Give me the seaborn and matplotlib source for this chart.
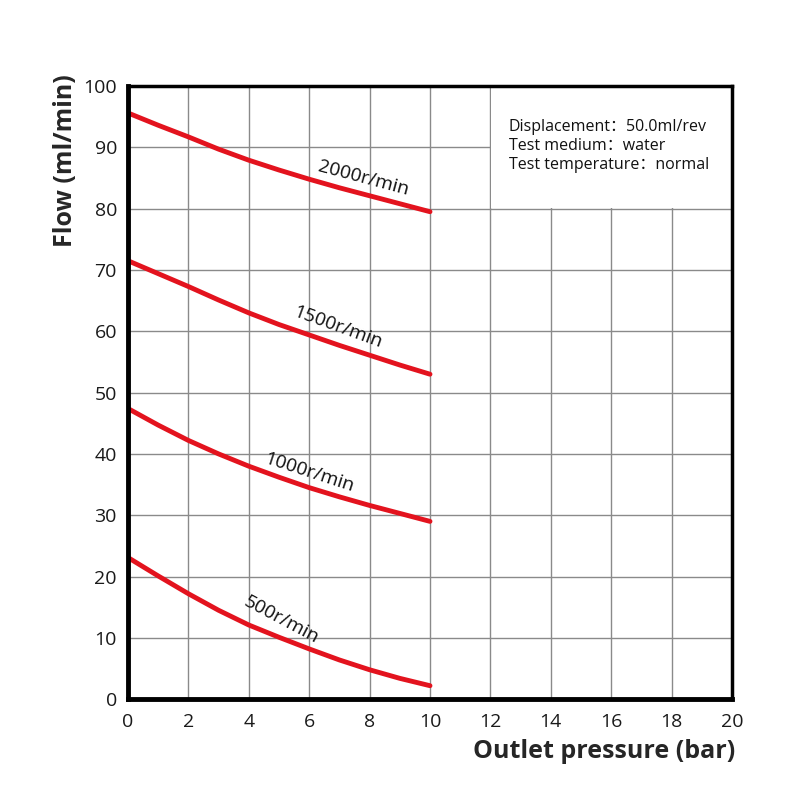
#!/usr/bin/env python3
import pandas as pd
import matplotlib
matplotlib.use("Agg")
import matplotlib.pyplot as plt
import seaborn as sns

# flow curves, outlet pressure 0..10 bar
pressure = [0, 1, 2, 3, 4, 5, 6, 7, 8, 9, 10]
flow_2000 = [95.6, 93.6, 91.7, 89.7, 87.9, 86.3, 84.8, 83.4, 82.1, 80.8, 79.5]
flow_1500 = [71.5, 69.4, 67.3, 65.1, 63.0, 61.1, 59.4, 57.7, 56.1, 54.5, 53.0]
flow_1000 = [47.4, 44.7, 42.2, 40.0, 38.0, 36.2, 34.5, 33.0, 31.6, 30.3, 29.0]
flow_500 = [23.1, 20.1, 17.2, 14.5, 12.1, 10.1, 8.2, 6.4, 4.8, 3.4, 2.2]
speeds = ["2000r/min", "1500r/min", "1000r/min", "500r/min"]
info_lines = ["Displacement\uff1a50.0ml/rev", "Test medium\uff1awater", "Test temperature\uff1anormal"]

rows = []
for name, vals in zip(speeds, [flow_2000, flow_1500, flow_1000, flow_500]):
    for p, f in zip(pressure, vals):
        rows.append({"Speed": name, "Pressure": p, "Flow": f})
df = pd.DataFrame(rows)

sns.set_theme(style="white")
plt.rcParams["font.family"] = ["Open Sans", "Noto Sans CJK SC", "DejaVu Sans"]

fig = plt.figure(figsize=(8, 8), dpi=100)
ax = fig.add_axes([0.16, 0.126, 0.755, 0.7665])

sns.lineplot(data=df, x="Pressure", y="Flow", hue="Speed",
             palette=["#e3131e"] * 4, linewidth=3.5, legend=False, ax=ax, zorder=3)

ax.set_xlim(0, 20)
ax.set_ylim(0, 100)
ax.set_xticks(range(0, 21, 2))
ax.set_yticks(range(0, 101, 10))
ax.grid(True, color="#8a8a8a", linewidth=1.0)
ax.set_axisbelow(True)
ax.tick_params(axis="both", length=0, labelsize=14, labelcolor="#1a1a1a")
ax.tick_params(axis="x", pad=10)
ax.tick_params(axis="y", pad=8)
ax.set_xlabel("")
ax.set_ylabel("")
for side in ["left", "bottom"]:
    ax.spines[side].set_linewidth(3.5)
for side in ["top", "right"]:
    ax.spines[side].set_linewidth(2.5)
for s in ax.spines.values():
    s.set_color("black")
    s.set_zorder(5)

# white box hiding the grid behind the notes
ax.add_patch(plt.Rectangle((12.03, 80.12), 7.97, 19.88, facecolor="white",
                           edgecolor="none", zorder=2))
ax.text(12.6, 94.6, "\n".join(info_lines), fontsize=11.5, va="top", ha="left",
        linespacing=1.25, color="#111111", zorder=4)

# curve labels
label_pos = [(7.8, 85.0, -15), (6.95, 60.6, -20), (6.0, 37.0, -18), (5.07, 12.9, -28)]
for name, (x, y, rot) in zip(speeds, label_pos):
    ax.text(x, y, name, fontsize=13.8, rotation=rot, ha="center", va="center",
            color="#111111", rotation_mode="anchor", zorder=4)

fig.text(65 / 800, 1 - 74 / 800, "Flow (ml/min)", rotation=90, fontsize=18,
         fontweight="bold", ha="center", va="top")
fig.text(735 / 800, 1 - 752 / 800, "Outlet pressure (bar)", fontsize=18,
         fontweight="bold", ha="right", va="center")

fig.savefig("out.png", dpi=100, facecolor="white")
